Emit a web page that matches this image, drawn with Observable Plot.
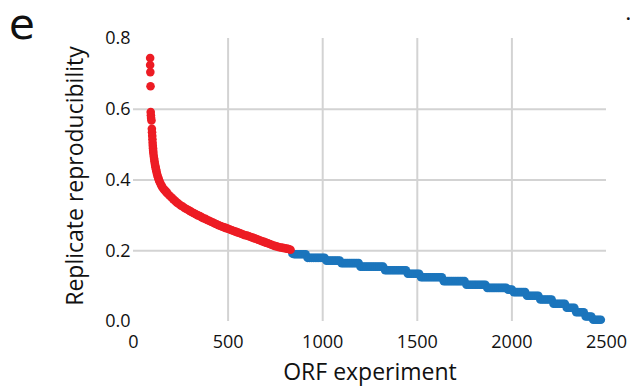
<!DOCTYPE html>
<html>
<head>
<meta charset="utf-8">
<script src="https://cdn.jsdelivr.net/npm/d3@7"></script>
<script src="https://cdn.jsdelivr.net/npm/@observablehq/plot@0.6"></script>
<style>
  html, body { margin: 0; padding: 0; background: #fff; }
  #wrap { position: relative; width: 630px; height: 390px; }
  .panel { position: absolute; left: 9px; top: 0px; font: 42px/49px "DejaVu Sans", sans-serif; color: #111; }
  .mark { position: absolute; left: 626px; top: 6px; font: bold 16px/16px "Open Sans", sans-serif; color: #111; }
</style>
</head>
<body>
<div id="wrap"></div>
<script>
const panelLetter = "e";
const xLabel = "ORF experiment";
const yLabel = "Replicate reproducibility";
const xTicks = [0, 500, 1000, 1500, 2000, 2500];
const yTicks = [0, 0.2, 0.4, 0.6, 0.8];
const xGridTicks = [500, 1000, 1500, 2000];
const yGridTicks = [0.2, 0.4, 0.6];

const redRank = [88, 88, 89, 90, 91, 92, 93, 95,
  97, 98, 99, 100, 101, 102, 103, 104, 105, 107, 109, 111, 113, 115, 117, 119, 121, 124, 127, 130, 133, 136,
  140, 145, 150, 155, 160, 165, 170, 175, 180, 190, 200, 210, 220, 230, 240, 250, 260, 270, 280, 290,
  300, 310, 320, 330, 340, 350, 360, 370, 380, 390, 400, 410, 420, 430, 440, 450,
  460, 470, 480, 490, 500, 510, 520, 530, 540, 550, 560, 570, 580, 590, 600, 610,
  620, 630, 640, 650, 660, 670, 680, 690, 700, 710, 720, 730, 740, 750, 760, 770,
  780, 790, 800, 810, 820, 830];
const redValue = [0.745, 0.725, 0.705, 0.665, 0.592, 0.583, 0.575, 0.568,
  0.545, 0.535, 0.525, 0.515, 0.505, 0.497, 0.49, 0.483, 0.476, 0.468, 0.46, 0.453, 0.446, 0.44, 0.435, 0.43, 0.425, 0.418, 0.412, 0.407, 0.402, 0.398,
  0.393, 0.387, 0.382, 0.378, 0.374, 0.371, 0.368, 0.365, 0.362, 0.356, 0.351, 0.346, 0.341, 0.336, 0.332, 0.328, 0.325, 0.321, 0.318, 0.315,
  0.312, 0.309, 0.306, 0.303, 0.30, 0.298, 0.295, 0.292, 0.29, 0.287, 0.285, 0.282, 0.28, 0.277, 0.275, 0.272,
  0.27, 0.268, 0.266, 0.264, 0.262, 0.26, 0.258, 0.256, 0.254, 0.252, 0.25, 0.248, 0.246, 0.244, 0.243, 0.241,
  0.239, 0.237, 0.235, 0.233, 0.231, 0.229, 0.227, 0.225, 0.223, 0.221, 0.219, 0.217, 0.215, 0.213, 0.212, 0.21,
  0.209, 0.208, 0.207, 0.206, 0.205, 0.203];

// remaining ORF experiments (blue)
const blueRank = [840, 850, 860, 870, 880, 890, 900, 910,
  920, 930, 940, 950, 960, 970, 980, 990, 1000, 1010,
  1020, 1030, 1040, 1050, 1060, 1070, 1080, 1090,
  1100, 1110, 1120, 1130, 1140, 1150, 1160, 1170, 1180, 1190,
  1200, 1210, 1220, 1230, 1240, 1250, 1260, 1270, 1280, 1290, 1300, 1310, 1320,
  1330, 1340, 1350, 1360, 1370, 1380, 1390, 1400, 1410, 1420, 1430, 1440,
  1450, 1460, 1470, 1480, 1490, 1500, 1510,
  1520, 1530, 1540, 1550, 1560, 1570, 1580, 1590, 1600, 1610, 1620, 1630,
  1640, 1650, 1660, 1670, 1680, 1690, 1700, 1710, 1720, 1730, 1740, 1750,
  1760, 1770, 1780, 1790, 1800, 1810, 1820, 1830, 1840, 1850, 1860,
  1870, 1880, 1890, 1900, 1910, 1920, 1930, 1940, 1950, 1960, 1970,
  1980, 1990, 2000,
  2010, 2020, 2030, 2040, 2050, 2060, 2070,
  2080, 2090, 2100, 2110, 2120, 2130, 2140,
  2150, 2160, 2170, 2180, 2190, 2200, 2210,
  2220, 2230, 2240, 2250, 2260, 2270, 2280,
  2290, 2300, 2310, 2320, 2330,
  2340, 2350, 2360, 2370, 2380,
  2390, 2400, 2410, 2420,
  2430, 2440, 2450, 2460, 2470];
const blueValue = [0.192, 0.19, 0.19, 0.19, 0.19, 0.19, 0.19, 0.19,
  0.18, 0.18, 0.18, 0.18, 0.18, 0.18, 0.18, 0.18, 0.18, 0.18,
  0.172, 0.172, 0.172, 0.172, 0.172, 0.172, 0.172, 0.172,
  0.165, 0.165, 0.165, 0.165, 0.165, 0.165, 0.165, 0.165, 0.165, 0.165,
  0.155, 0.155, 0.155, 0.155, 0.155, 0.155, 0.155, 0.155, 0.155, 0.155, 0.155, 0.155, 0.155,
  0.145, 0.145, 0.145, 0.145, 0.145, 0.145, 0.145, 0.145, 0.145, 0.145, 0.145, 0.145,
  0.135, 0.135, 0.135, 0.135, 0.135, 0.135, 0.135,
  0.125, 0.125, 0.125, 0.125, 0.125, 0.125, 0.125, 0.125, 0.125, 0.125, 0.125, 0.125,
  0.114, 0.114, 0.114, 0.114, 0.114, 0.114, 0.114, 0.114, 0.114, 0.114, 0.114, 0.114,
  0.104, 0.104, 0.104, 0.104, 0.104, 0.104, 0.104, 0.104, 0.104, 0.104, 0.104,
  0.095, 0.095, 0.095, 0.095, 0.095, 0.095, 0.095, 0.095, 0.095, 0.095, 0.095,
  0.09, 0.09, 0.09,
  0.083, 0.083, 0.083, 0.083, 0.083, 0.083, 0.083,
  0.073, 0.073, 0.073, 0.073, 0.073, 0.073, 0.073,
  0.062, 0.062, 0.062, 0.062, 0.062, 0.062, 0.062,
  0.05, 0.05, 0.05, 0.05, 0.05, 0.05, 0.05,
  0.039, 0.039, 0.039, 0.039, 0.039,
  0.026, 0.026, 0.026, 0.026, 0.026,
  0.014, 0.014, 0.014, 0.014,
  0.005, 0.005, 0.005, 0.005, 0.005];

const red = redRank.map((r, i) => ({rank: r, value: redValue[i]}));
const blue = blueRank.map((r, i) => ({rank: r, value: blueValue[i]}));

const gridStyle = {stroke: "#d3d3d3", strokeOpacity: 1, strokeWidth: 2};

const chart = Plot.plot({
  width: 630,
  height: 390,
  marginLeft: 133,
  marginRight: 24,
  marginTop: 38,
  marginBottom: 69,
  style: {fontFamily: "'Open Sans', sans-serif", background: "white", color: "#111"},
  x: {domain: [0, 2500]},
  y: {domain: [0, 0.8]},
  marks: [
    Plot.gridX(xGridTicks, gridStyle),
    Plot.gridY(yGridTicks, gridStyle),
    Plot.axisX(xTicks, {tickSize: 0, tickPadding: 14, fontSize: 18, label: null, tickFormat: d => String(d)}),
    Plot.axisY(yTicks, {tickSize: 0, tickPadding: 3, fontSize: 18, label: null, tickFormat: d => d.toFixed(1)}),
    Plot.dot(blue, {x: "rank", y: "value", r: 4.3, fill: "#1B75BC"}),
    Plot.dot(red, {x: "rank", y: "value", r: 4.3, fill: "#ED1C24"}),
    Plot.text([xLabel], {text: d => d, frameAnchor: "bottom", dy: 51, fontSize: 23, lineAnchor: "middle", textAnchor: "middle"}),
    Plot.text([yLabel], {text: d => d, frameAnchor: "left", dx: -58, dy: -4, rotate: -90, fontSize: 23, lineAnchor: "middle", textAnchor: "middle"})
  ]
});

const wrap = document.getElementById("wrap");
wrap.appendChild(chart);
const p = document.createElement("div");
p.className = "panel";
p.textContent = panelLetter;
wrap.appendChild(p);
const m = document.createElement("div");
m.className = "mark";
m.textContent = ".";
wrap.appendChild(m);
</script>
</body>
</html>
